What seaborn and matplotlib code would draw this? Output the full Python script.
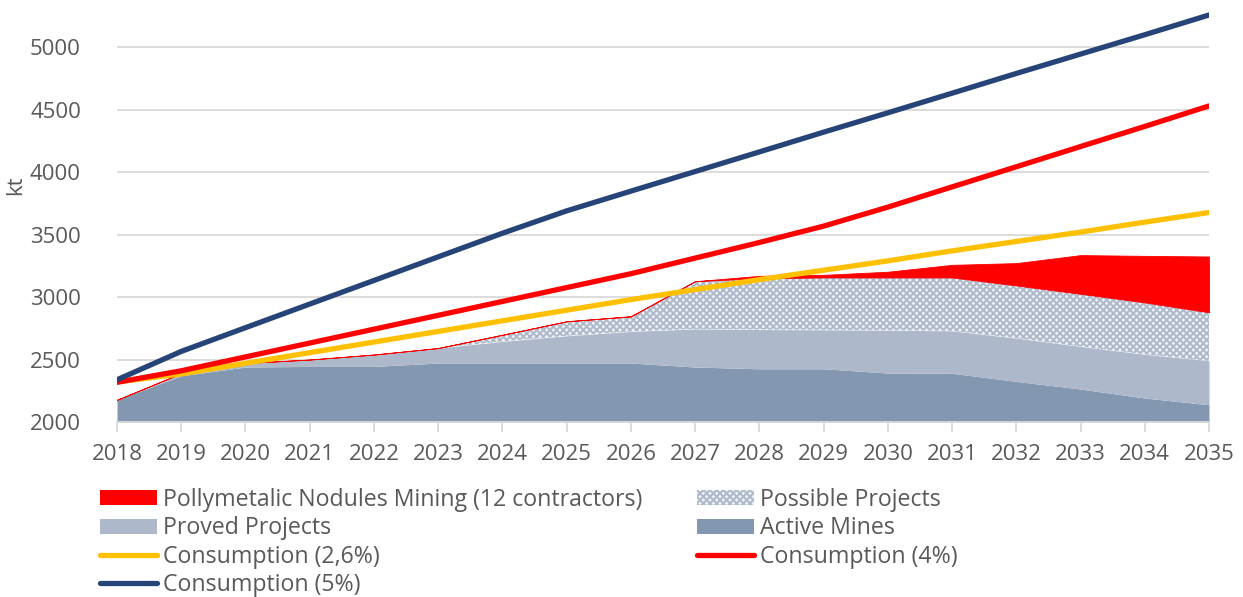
import numpy as np
import pandas as pd
import matplotlib
matplotlib.use("Agg")
import matplotlib.pyplot as plt
from matplotlib.patches import Patch
from matplotlib.lines import Line2D
import seaborn as sns

years = list(range(2018, 2036))
active_mines = [2178, 2370, 2440, 2445, 2445, 2472, 2472, 2472, 2472, 2440,
                2426, 2426, 2392, 2390, 2325, 2264, 2192, 2138]
proved_projects = [0, 20, 32, 55, 95, 120, 173, 218, 253, 305,
                   314, 312, 343, 340, 346, 341, 350, 352]
possible_projects = [0, 0, 0, 0, 0, 0, 53, 116, 121, 382,
                     411, 419, 422, 427, 422, 421, 415, 388]
nodules_mining = [0, 0, 0, 0, 0, 0, 0, 0, 0, 0,
                  19, 21, 46, 101, 179, 310, 373, 447]
cons_26 = [2320, 2385, 2470, 2555, 2640, 2725, 2810, 2895, 2980, 3060,
           3140, 3215, 3290, 3370, 3445, 3520, 3600, 3677]
cons_4 = [2318, 2410, 2521, 2632, 2743, 2854, 2965, 3076, 3187, 3312,
          3437, 3568, 3720, 3882, 4043, 4205, 4366, 4530]
cons_5 = [2338, 2565, 2755, 2944, 3133, 3322, 3511, 3690, 3848, 4005,
          4162, 4320, 4475, 4632, 4790, 4945, 5100, 5258]
yticks = [2000, 2500, 3000, 3500, 4000, 4500, 5000]

labels = ["Pollymetalic Nodules Mining (12 contractors)", "Possible Projects",
          "Proved Projects", "Active Mines",
          "Consumption (2,6%)", "Consumption (4%)", "Consumption (5%)"]

c_active = "#8497b0"
c_proved = "#adb9ca"
c_red = "#ff0000"
c_yellow = "#ffc000"
c_navy = "#264478"
c_text = "#595959"
c_grid = "#d9d9d9"

sns.set_theme(style="white")
plt.rcParams["font.family"] = ["Open Sans", "DejaVu Sans"]
plt.rcParams["hatch.linewidth"] = 1.4

df = pd.DataFrame({"year": years, "active": active_mines, "proved": proved_projects,
                   "possible": possible_projects, "nodules": nodules_mining,
                   "c26": cons_26, "c4": cons_4, "c5": cons_5})
df["t1"] = df["active"]
df["t2"] = df["t1"] + df["proved"]
df["t3"] = df["t2"] + df["possible"]
df["t4"] = df["t3"] + df["nodules"]

fig = plt.figure(figsize=(12.43, 5.97), dpi=100)
ax = fig.add_axes([117 / 1243, 1 - 422 / 597, (1209 - 117) / 1243, (422 - 6) / 597])

hatch_face = "#eef1f5"
base = 2000
ax.fill_between(df["year"], base, df["t1"], facecolor=c_active, linewidth=0, zorder=2)
ax.fill_between(df["year"], df["t1"], df["t2"], facecolor=c_proved, linewidth=0, zorder=2)
ax.fill_between(df["year"], df["t2"], df["t3"], facecolor=hatch_face, edgecolor=c_proved,
                hatch="xxxxx", linewidth=0, zorder=2)
ax.fill_between(df["year"], df["t3"], df["t4"], facecolor=c_red, edgecolor=c_red,
                linewidth=0.6, zorder=2)

lw = 3.8
sns.lineplot(data=df, x="year", y="c26", ax=ax, color=c_yellow, linewidth=lw,
             solid_capstyle="round", zorder=3)
sns.lineplot(data=df, x="year", y="c4", ax=ax, color=c_red, linewidth=lw,
             solid_capstyle="round", zorder=4)
sns.lineplot(data=df, x="year", y="c5", ax=ax, color=c_navy, linewidth=lw,
             solid_capstyle="round", zorder=5)

ax.set_xlim(2018, 2035)
ax.set_ylim(2000, 5330)
ax.set_xticks(years)
ax.set_xticklabels([str(y) for y in years])
ax.set_yticks(yticks)
ax.set_yticklabels([str(v) for v in yticks])
ax.grid(axis="y", color=c_grid, linewidth=1.3, zorder=0)
ax.set_axisbelow(True)
for s in ["top", "right", "left"]:
    ax.spines[s].set_visible(False)
ax.spines["bottom"].set_color(c_grid)
ax.spines["bottom"].set_linewidth(1.3)
ax.spines["bottom"].set_zorder(6)
ax.tick_params(axis="x", colors=c_text, labelsize=16, length=7, width=1.3,
               color=c_grid, pad=9, direction="out", bottom=True)
ax.tick_params(axis="y", colors=c_text, labelsize=16, length=0, pad=26)
ax.set_xlabel("")
ax.set_ylabel("kt", color=c_text, fontsize=16)
ax.yaxis.set_label_coords(-0.083, 0.57)

h_nod = Patch(facecolor=c_red, edgecolor="none")
h_pos = Patch(facecolor=hatch_face, edgecolor=c_proved, hatch="xxxxx", linewidth=0)
h_pro = Patch(facecolor=c_proved, edgecolor="none")
h_act = Patch(facecolor=c_active, edgecolor="none")
h_26 = Line2D([0], [0], color=c_yellow, linewidth=lw, solid_capstyle="round")
h_4 = Line2D([0], [0], color=c_red, linewidth=lw, solid_capstyle="round")
h_5 = Line2D([0], [0], color=c_navy, linewidth=lw, solid_capstyle="round")

leg_kw = dict(loc="upper left", frameon=False, fontsize=16.7, handlelength=2.45,
              handleheight=0.6, handletextpad=0.26, labelspacing=0.19,
              borderaxespad=0, borderpad=0)
leg1 = fig.legend([h_nod, h_pro, h_26, h_5],
                  [labels[0], labels[2], labels[4], labels[6]],
                  bbox_to_anchor=(100 / 1243, 1 - 488 / 597), **leg_kw)
for t in leg1.get_texts():
    t.set_color(c_text)
leg2 = fig.legend([h_pos, h_act, h_4], [labels[1], labels[3], labels[5]],
                  bbox_to_anchor=(697 / 1243, 1 - 488 / 597), **leg_kw)
for t in leg2.get_texts():
    t.set_color(c_text)

fig.savefig("out.png", dpi=100)
